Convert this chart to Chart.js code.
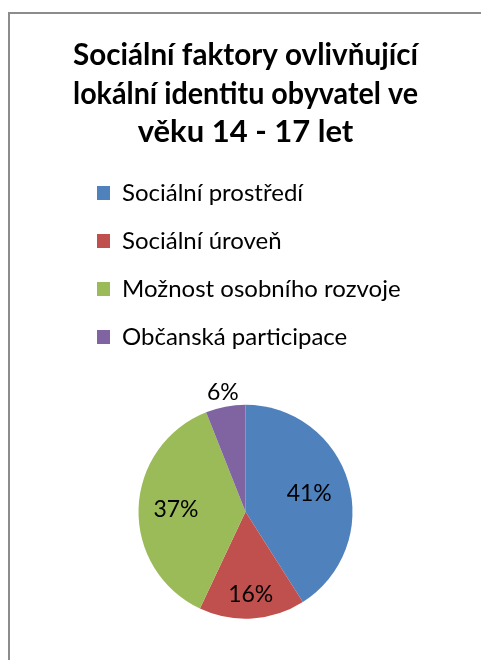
<!DOCTYPE html>
<html>
<head>
<meta charset="utf-8">
<script src="https://cdn.jsdelivr.net/npm/chart.js@4"></script>
<style>
  html, body { margin: 0; padding: 0; background: #fff; overflow: hidden; }
  #frame { position: absolute; left: 8px; top: 12px; width: 600px; height: 800px; border: 2px solid #8c8c8c; }
  #wrap { position: absolute; left: 0; top: 0; width: 481px; height: 670px; }
</style>
</head>
<body>
<div id="frame"></div>
<div id="wrap"><canvas id="piechart"></canvas></div>
<script>
const titleLines = ['Sociální faktory ovlivňující', 'lokální identitu obyvatel ve', 'věku 14 - 17 let'];
const categories = ['Sociální prostředí', 'Sociální úroveň', 'Možnost osobního rozvoje', 'Občanská participace'];
const percents = [41, 16, 37, 6];
const colors = ['#4F81BD', '#C0504D', '#9BBB59', '#8064A2'];

Chart.defaults.font.family = 'Lato, "Open Sans", sans-serif';

// simple percent labels, small slices go outside
const pctLabels = {
    id: 'pctLabels',
    afterDatasetsDraw(chart, args, opts) {
        var ctx = chart.ctx;
        var meta = chart.getDatasetMeta(0);
        ctx.save();
        ctx.font = opts.size + 'px ' + Chart.defaults.font.family;
        ctx.fillStyle = '#000';
        ctx.textAlign = 'center';
        ctx.textBaseline = 'middle';
        meta.data.forEach(function (arc, i) {
            var p = arc.getProps(['x', 'y', 'startAngle', 'endAngle', 'outerRadius'], true);
            var mid = (p.startAngle + p.endAngle) / 2;
            var r = p.outerRadius * opts.dist[i];
            ctx.fillText(percents[i] + '%', p.x + Math.cos(mid) * r, p.y + Math.sin(mid) * r);
        });
        ctx.restore();
    }
};

const config = {
    type: 'pie',
    data: {
        labels: categories,
        datasets: [{
            data: percents,
            backgroundColor: colors,
            borderWidth: 0,
            radius: 107
        }]
    },
    options: {
        responsive: true,
        maintainAspectRatio: false,
        animation: false,
        layout: {
            padding: { top: 0, left: 73, right: 63, bottom: 5.5 }
        },
        plugins: {
            title: {
                display: true,
                text: titleLines,
                color: '#000',
                font: { size: 31, weight: 'bold', lineHeight: 1.242 },
                padding: { top: 36, bottom: 5.5 }
            },
            legend: {
                position: 'top',
                align: 'start',
                labels: {
                    color: '#000',
                    font: { size: 24 },
                    boxWidth: 13,
                    boxHeight: 14,
                    padding: 24
                }
            },
            tooltip: { enabled: false },
            pctLabels: {
                size: 23,
                dist: [0.62, 0.78, 0.65, 1.13]
            }
        }
    },
    plugins: [pctLabels]
};

var ctx = document.getElementById('piechart').getContext('2d');
var chart = new Chart(ctx, config);
</script>
</body>
</html>
